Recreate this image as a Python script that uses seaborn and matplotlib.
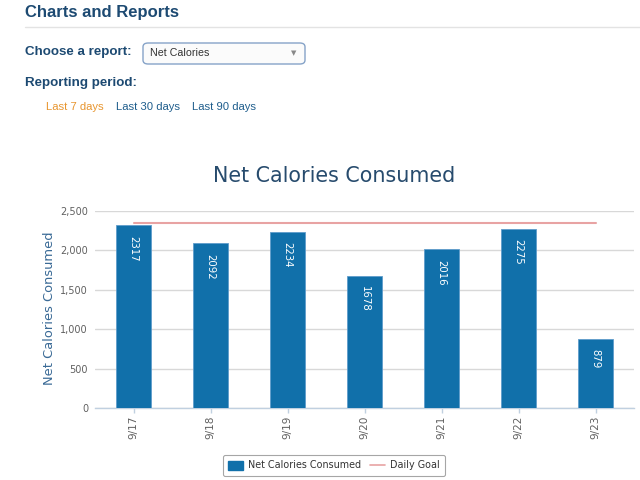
import matplotlib
matplotlib.use("Agg")
import matplotlib.pyplot as plt
import matplotlib.ticker as mticker
from matplotlib.patches import FancyBboxPatch, Patch
from matplotlib.lines import Line2D
import seaborn as sns
import numpy as np

# data
dates = ['9/17', '9/18', '9/19', '9/20', '9/21', '9/22', '9/23']
calories = [2317, 2092, 2234, 1678, 2016, 2275, 879]
goal = [2350, 2350, 2350, 2350, 2350, 2350, 2350]
periods = ['Last 7 days', 'Last 30 days', 'Last 90 days']

bar_color = '#1170aa'
goal_color = '#e8a3a3'
navy = '#1d4a72'

sns.set_theme(style="white")
plt.rcParams['font.family'] = ['DejaVu Sans']

W, H = 640, 480
fig = plt.figure(figsize=(6.4, 4.8), dpi=100)

def fx(px):
    return px / W

def fy(py):
    return 1 - py / H

# page header stuff
web = ['Liberation Sans', 'DejaVu Sans']
fig.text(fx(25), fy(13), 'Charts and Reports', family=web, weight='bold',
         fontsize=12, color=navy, va='center', ha='left')
fig.add_artist(Line2D([fx(25), 1], [fy(26.5), fy(26.5)], color='#e3e3e3', lw=1))
fig.text(fx(25), fy(52), 'Choose a report:', family=web, weight='bold',
         fontsize=9.6, color=navy, va='center', ha='left')
box = FancyBboxPatch((fx(143), fy(64)), fx(305 - 143), (64 - 43) / H,
                     boxstyle='round,pad=0,rounding_size=0.008',
                     transform=fig.transFigure, facecolor='#fbfbfb',
                     edgecolor='#86a3c8', lw=1)
fig.add_artist(box)
fig.text(fx(150), fy(53.5), 'Net Calories', family=web, fontsize=7.7,
         color='#333333', va='center', ha='left')
fig.text(fx(294), fy(53), '\u25bc', family=['DejaVu Sans'], fontsize=5,
         color='#888888', va='center', ha='center')
fig.text(fx(25), fy(83), 'Reporting period:', family=web, weight='bold',
         fontsize=9.6, color=navy, va='center', ha='left')
link_x = [46, 116, 192]
link_c = ['#e8952e', '#1e5d8c', '#1e5d8c']
for lx, lab, lc in zip(link_x, periods, link_c):
    fig.text(fx(lx), fy(107), lab, family=web, fontsize=8.1, color=lc,
             va='center', ha='left')

# chart
ax = fig.add_axes([fx(95), fy(408), fx(634 - 95), (408 - 211) / H])
sns.barplot(x=dates, y=calories, color=bar_color, saturation=1, width=0.455,
            edgecolor='#5f9ccb', linewidth=0.6, ax=ax, zorder=3)
sns.lineplot(x=np.arange(len(dates)), y=goal, color=goal_color, linewidth=1.5,
             ax=ax, zorder=4)

for i, v in enumerate(calories):
    ax.annotate(str(v), xy=(i, v), xytext=(0, -7.5), textcoords='offset points',
                rotation=-90, ha='center', va='top', color='white', fontsize=7.3,
                zorder=5)

ax.set_xlim(-0.5, len(dates) - 0.5)
ax.set_ylim(0, 2500)
ax.set_yticks(np.arange(0, 2501, 500))
ax.yaxis.set_major_formatter(mticker.FuncFormatter(lambda v, p: f'{int(v):,}'))
ax.grid(axis='y', color='#d8d8d8', lw=1, zorder=0)
ax.grid(axis='x', visible=False)
for s in ['top', 'right', 'left']:
    ax.spines[s].set_visible(False)
ax.spines['bottom'].set_color('#c0d0e0')
ax.spines['bottom'].set_linewidth(1)
ax.tick_params(axis='y', length=0, pad=5, labelsize=7, labelcolor='#606060')
ax.tick_params(axis='x', length=3.6, width=1, color='#c0d0e0', pad=2,
               labelsize=7.6, labelcolor='#606060', bottom=True)
plt.setp(ax.get_xticklabels(), rotation=90, ha='center', va='top')
ax.set_xlabel('')
ax.set_ylabel('')
fig.text(fx(50), fy(308), 'Net Calories Consumed', rotation=90, fontsize=9.4,
         color='#3a6a96', ha='center', va='center')
fig.text(fx(334), fy(176), 'Net Calories Consumed', fontsize=14.9,
         color='#274b6d', ha='center', va='center')

handles = [Patch(facecolor=bar_color, edgecolor=bar_color),
           Line2D([0], [0], color=goal_color, lw=1.2)]
leg = fig.legend(handles, ['Net Calories Consumed', 'Daily Goal'], ncol=2,
                 loc='center', bbox_to_anchor=(fx(334), fy(465.5)),
                 fontsize=6.9, frameon=True, fancybox=True, handlelength=1.6,
                 handleheight=1.0, handletextpad=0.5, columnspacing=0.9,
                 borderpad=0.55, edgecolor='#909090')
leg.get_frame().set_linewidth(0.8)
for t in leg.get_texts():
    t.set_color('#333333')

fig.savefig('out.png', dpi=100)
